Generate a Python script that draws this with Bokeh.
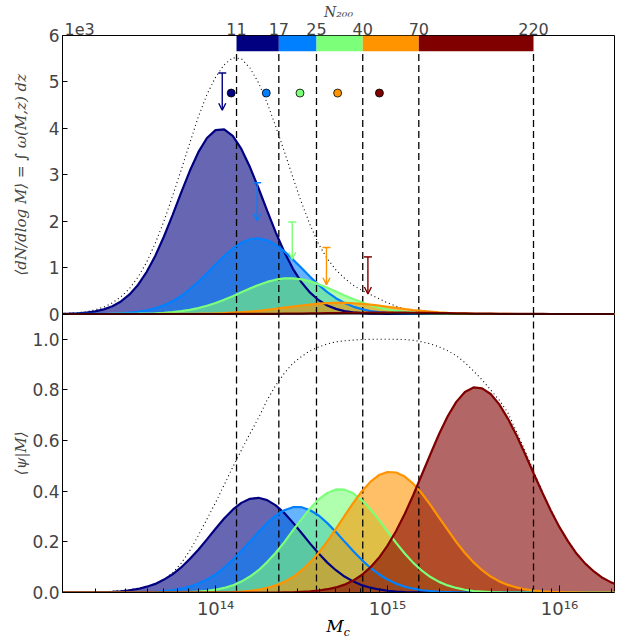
from bokeh.plotting import figure
from bokeh.models import (Range1d, FixedTicker, Arrow, OpenHead, LogAxis,
                          LinearAxis, CustomJSTickFormatter, Div, Span)
from bokeh.layouts import column
from bokeh.embed import file_html
from bokeh.resources import INLINE

# ---------------- data ----------------
LOGM = [13.10, 13.15, 13.20, 13.25, 13.30, 13.35, 13.40, 13.45, 13.50, 13.55,
        13.60, 13.65, 13.70, 13.75, 13.80, 13.85, 13.90, 13.95, 14.00, 14.05,
        14.10, 14.15, 14.20, 14.25, 14.30, 14.35, 14.40, 14.45, 14.50, 14.55,
        14.60, 14.65, 14.70, 14.75, 14.80, 14.85, 14.90, 14.95, 15.00, 15.05,
        15.10, 15.15, 15.20, 15.25, 15.30, 15.35, 15.40, 15.45, 15.50, 15.55,
        15.60, 15.65, 15.70, 15.75, 15.80, 15.85, 15.90, 15.95, 16.00, 16.05,
        16.10, 16.15, 16.20, 16.25, 16.30, 16.35]

Z10 = [0] * 10

# top panel: <dN/dlog M> in units of 1e3
NAVY_TOP = ([0.004, 0.008, 0.016, 0.031, 0.056, 0.099, 0.167, 0.271, 0.422, 0.632,
             0.909, 1.257, 1.670, 2.131, 2.614, 3.080, 3.486, 3.791, 3.961, 3.977,
             3.837, 3.556, 3.166, 2.709, 2.227, 1.759, 1.335, 0.973, 0.681, 0.459,
             0.297, 0.184, 0.110, 0.063, 0.035, 0.018, 0.009, 0.005, 0.002, 0.001]
            + Z10 + Z10 + [0, 0, 0, 0, 0, 0])
BLUE_TOP = ([0, 0, 0.001, 0.001, 0.002, 0.005, 0.009, 0.016, 0.028, 0.048,
             0.079, 0.124, 0.189, 0.276, 0.389, 0.529, 0.693, 0.875, 1.065, 1.248,
             1.410, 1.535, 1.611, 1.629, 1.587, 1.490, 1.349, 1.176, 0.989, 0.801,
             0.625, 0.470, 0.341, 0.238, 0.160, 0.104, 0.065, 0.039, 0.023, 0.013,
             0.007, 0.004, 0.002, 0.001, 0, 0, 0, 0, 0, 0]
            + Z10 + [0, 0, 0, 0, 0, 0])
GREEN_TOP = ([0, 0, 0, 0, 0, 0, 0.001, 0.002, 0.003, 0.006,
              0.010, 0.016, 0.026, 0.040, 0.061, 0.090, 0.128, 0.177, 0.237, 0.307,
              0.384, 0.467, 0.550, 0.626, 0.691, 0.739, 0.766, 0.768, 0.746, 0.702,
              0.640, 0.565, 0.484, 0.401, 0.322, 0.250, 0.188, 0.137, 0.097, 0.066,
              0.044, 0.028, 0.018, 0.011, 0.006, 0.003, 0.002, 0.001, 0, 0]
             + Z10 + [0, 0, 0, 0, 0, 0])
ORANGE_TOP = (Z10 +
              [0, 0, 0.001, 0.001, 0.002, 0.004, 0.006, 0.009, 0.013, 0.020,
               0.028, 0.039, 0.053, 0.070, 0.090, 0.112, 0.136, 0.160, 0.183, 0.204,
               0.222, 0.234, 0.239, 0.239, 0.232, 0.218, 0.200, 0.179, 0.155, 0.131,
               0.108, 0.086, 0.067, 0.050, 0.037, 0.026, 0.018, 0.012, 0.008, 0.005,
               0.003, 0.002, 0.001, 0, 0, 0, 0, 0, 0, 0,
               0, 0, 0, 0, 0, 0])
RED_TOP = (Z10 + Z10 +
           [0.001, 0.001, 0.002, 0.002, 0.003, 0.004, 0.006, 0.007, 0.010, 0.012,
            0.014, 0.017, 0.020, 0.023, 0.025, 0.027, 0.029, 0.030, 0.030, 0.030,
            0.029, 0.027, 0.025, 0.023, 0.020, 0.017, 0.014, 0.012, 0.010, 0.007,
            0.006, 0.004, 0.003, 0.002, 0.002, 0.001, 0.001, 0, 0, 0,
            0, 0, 0, 0, 0, 0])
TOTAL_TOP = ([0.01, 0.02, 0.03, 0.05, 0.09, 0.15, 0.24, 0.37, 0.55, 0.80,
              1.12, 1.53, 2.00, 2.54, 3.10, 3.68, 4.25, 4.73, 5.10, 5.37,
              5.52, 5.50, 5.30, 4.98, 4.55, 4.04, 3.50, 2.94, 2.40, 1.92,
              1.50, 1.19, 0.95, 0.77, 0.62, 0.51, 0.42, 0.33, 0.24, 0.17,
              0.11, 0.07, 0.04, 0.02, 0.01, 0.005, 0, 0, 0, 0]
             + Z10 + [0, 0, 0, 0, 0, 0])

# bottom panel: <psi|M>
NAVY_BOT = ([0, 0, 0, 0, 0.001, 0.002, 0.003, 0.005, 0.009, 0.014,
             0.023, 0.034, 0.051, 0.072, 0.099, 0.132, 0.169, 0.210, 0.252, 0.292,
             0.327, 0.354, 0.370, 0.374, 0.365, 0.344, 0.314, 0.276, 0.235, 0.193,
             0.154, 0.118, 0.088, 0.063, 0.044, 0.029, 0.019, 0.012, 0.007, 0.004,
             0.002, 0.001, 0.001, 0, 0, 0, 0, 0, 0, 0]
            + Z10 + [0, 0, 0, 0, 0, 0])
BLUE_BOT = ([0, 0, 0, 0, 0, 0, 0, 0, 0, 0.001,
             0.002, 0.003, 0.006, 0.009, 0.015, 0.023, 0.035, 0.051, 0.072, 0.098,
             0.129, 0.164, 0.201, 0.239, 0.274, 0.304, 0.325, 0.337, 0.337, 0.325,
             0.304, 0.274, 0.239, 0.201, 0.164, 0.129, 0.098, 0.072, 0.051, 0.035,
             0.023, 0.015, 0.009, 0.006, 0.003, 0.002, 0.001, 0, 0, 0]
            + Z10 + [0, 0, 0, 0, 0, 0])
GREEN_BOT = (Z10 +
             [0, 0, 0, 0, 0.001, 0.002, 0.004, 0.007, 0.011, 0.018,
              0.028, 0.043, 0.063, 0.088, 0.120, 0.157, 0.199, 0.245, 0.290, 0.332,
              0.368, 0.393, 0.407, 0.406, 0.392, 0.365, 0.329, 0.287, 0.241, 0.196,
              0.154, 0.117, 0.086, 0.061, 0.042, 0.028, 0.018, 0.011, 0.006, 0.004,
              0.002, 0.001, 0, 0, 0, 0, 0, 0, 0, 0,
              0, 0, 0, 0, 0, 0])
ORANGE_BOT = (Z10 +
              [0, 0, 0, 0, 0, 0, 0, 0, 0.001, 0.001,
               0.002, 0.004, 0.007, 0.011, 0.018, 0.028, 0.042, 0.061, 0.087, 0.119,
               0.157, 0.202, 0.251, 0.303, 0.353, 0.399, 0.437, 0.464, 0.476, 0.474,
               0.458, 0.429, 0.391, 0.345, 0.296, 0.247, 0.199, 0.156, 0.119, 0.088,
               0.063, 0.044, 0.030, 0.020, 0.012, 0.008, 0.005, 0.003, 0.002, 0.001,
               0.001, 0, 0, 0, 0, 0])
RED_BOT = (Z10 + Z10 +
           [0, 0, 0, 0, 0, 0, 0.001, 0.001, 0.003, 0.005,
            0.008, 0.013, 0.020, 0.031, 0.047, 0.069, 0.099, 0.137, 0.185, 0.243,
            0.310, 0.385, 0.466, 0.547, 0.626, 0.696, 0.753, 0.792, 0.810, 0.806,
            0.784, 0.743, 0.687, 0.621, 0.547, 0.470, 0.395, 0.323, 0.258, 0.202,
            0.153, 0.114, 0.083, 0.058, 0.040, 0.027])
TOTAL_BOT = [0, 0, 0.001, 0.001, 0.002, 0.003, 0.005, 0.008, 0.012, 0.017,
             0.024, 0.033, 0.050, 0.078, 0.115, 0.165, 0.225, 0.290, 0.355, 0.425,
             0.495, 0.562, 0.627, 0.690, 0.760, 0.818, 0.866, 0.905, 0.932, 0.955,
             0.970, 0.982, 0.990, 0.994, 0.997, 0.999, 1.0, 1.0, 1.0, 1.0,
             0.999, 0.996, 0.990, 0.982, 0.970, 0.955, 0.935, 0.908, 0.875, 0.840,
             0.800, 0.760, 0.710, 0.635, 0.560, 0.478, 0.400, 0.326, 0.260, 0.204,
             0.155, 0.115, 0.084, 0.059, 0.040, 0.027]

# richness bin edges (N200) and their mass positions (log10 M)
N200_LABELS = ["11", "17", "25", "40", "70", "220"]
BOUND_LOGM = [14.122, 14.368, 14.587, 14.856, 15.182, 15.849]

# upper limits (arrows) and points in the top panel (units of 1e3)
UL_LOGM = [14.039, 14.242, 14.446, 14.645, 14.886]
UL_TOP = [5.19, 2.83, 1.98, 1.43, 1.23]
UL_TIP = [4.39, 2.01, 1.18, 0.63, 0.43]
PT_LOGM = [14.091, 14.295, 14.491, 14.710, 14.953]
PT_Y = [4.76, 4.76, 4.76, 4.76, 4.76]

# axis ticks / labels
YTICKS_TOP = [0, 1, 2, 3, 4, 5, 6]
YTICKS_BOT = [0, 0.2, 0.4, 0.6, 0.8, 1.0]
YLABEL_TOP = "\u27e8dN/dlog M\u27e9 = \u222b \u03c9(M,z) dz"
YLABEL_BOT = "\u27e8\u03c8|M\u27e9"

COLORS = ["#000080", "#0080ff", "#7cff79", "#ff9400", "#800000"]

for s in (NAVY_TOP, BLUE_TOP, GREEN_TOP, ORANGE_TOP, RED_TOP, TOTAL_TOP,
          NAVY_BOT, BLUE_BOT, GREEN_BOT, ORANGE_BOT, RED_BOT, TOTAL_BOT):
    assert len(s) == len(LOGM), len(s)

# ---------------- plotting ----------------
M = [10 ** v for v in LOGM]
BM = [10 ** v for v in BOUND_LOGM]
ULM = [10 ** v for v in UL_LOGM]
PTM = [10 ** v for v in PT_LOGM]

XMIN, XMAX = 10 ** 13.11, 10 ** 16.32
OFFSET_TEXT_X = 10 ** 13.21          # where the "1e3" multiplier text sits
W, H = 615, 628
LEFT = 62
FONT = "DejaVu Sans"
SERIF = "DejaVu Serif"

# one frame holding both panels: the lower panel uses the default range
# (0 .. 1.1 in its lower half), the upper panel its own range "top"
# (0 .. 6 in the upper half)
SPLIT = 1.1
p = figure(width=W, height=H, x_axis_type="log", x_range=Range1d(XMIN, XMAX),
           y_range=Range1d(0, 2 * SPLIT), output_backend="svg",
           toolbar_location=None, min_border_left=LEFT, min_border_right=1,
           min_border_top=0, min_border_bottom=36)
p.extra_y_ranges = {"top": Range1d(-6, 6)}
p.outline_line_color = "black"
p.outline_line_width = 1
p.grid.visible = False
p.background_fill_color = "white"
p.border_fill_color = "white"

# left numeric axis, shared by both panels
step = SPLIT / 6.0
ytick_pos = list(YTICKS_BOT) + [SPLIT + t * step for t in YTICKS_TOP]
ya = p.yaxis[0]
ya.ticker = FixedTicker(ticks=ytick_pos)
ya.formatter = CustomJSTickFormatter(args=dict(split=SPLIT, stp=step), code="""
if (tick < split - 0.05) { return tick.toFixed(1); }
return String(Math.round((tick - split) / stp));
""")
ya.major_tick_in = 5
ya.major_tick_out = 0
ya.minor_tick_in = 0
ya.minor_tick_out = 0
ya.major_label_text_font = FONT
ya.major_label_text_font_size = "17px"
ya.major_label_standoff = 3
ya.axis_line_color = "black"

# outer left axis carrying the two y titles, one per panel
ytitle = LinearAxis(ticker=FixedTicker(ticks=[SPLIT / 2, SPLIT * 1.5]),
                    formatter=CustomJSTickFormatter(
                        args=dict(names=[YLABEL_BOT, YLABEL_TOP], split=SPLIT),
                        code="return tick < split ? names[0] : names[1];"))
ytitle.major_label_orientation = "parallel"
ytitle.major_tick_in = 0
ytitle.major_tick_out = 0
ytitle.minor_tick_in = 0
ytitle.minor_tick_out = 0
ytitle.axis_line_color = None
ytitle.major_label_standoff = 0
ytitle.major_label_text_font = SERIF
ytitle.major_label_text_font_style = "italic"
ytitle.major_label_text_font_size = "15px"
p.add_layout(ytitle, "left")

# bottom log axis
xa = p.xaxis[0]
xa.major_tick_in = 7
xa.major_tick_out = 0
xa.minor_tick_in = 4
xa.minor_tick_out = 0
xa.major_label_text_font = FONT
xa.major_label_text_font_size = "18px"
xa.major_label_standoff = 5
xa.axis_line_color = "black"
xa.formatter = CustomJSTickFormatter(code="""
const e = Math.round(Math.log10(tick));
const sup = {'0':'\u2070','1':'\u00b9','2':'\u00b2','3':'\u00b3','4':'\u2074',
             '5':'\u2075','6':'\u2076','7':'\u2077','8':'\u2078','9':'\u2079','-':'\u207b'};
return '10' + String(e).split('').map(c => sup[c]).join('');
""")

# top axis: N200 bin edges (plus the 1e3 multiplier of the upper y axis)
TOP_TICKS = [OFFSET_TEXT_X] + BM
TOP_LABELS = ["1e3"] + N200_LABELS
above = LogAxis(ticker=FixedTicker(ticks=TOP_TICKS),
                formatter=CustomJSTickFormatter(args=dict(edges=TOP_TICKS, names=TOP_LABELS), code="""
let best = 0;
let bd = Infinity;
for (let i = 0; i < edges.length; i++) {
  const d = Math.abs(Math.log(edges[i]) - Math.log(tick));
  if (d < bd) { bd = d; best = i; }
}
return names[best];
"""))
above.major_tick_in = 0
above.major_tick_out = 0
above.minor_tick_in = 0
above.minor_tick_out = 0
above.axis_line_color = None
above.major_label_standoff = 1
above.major_label_text_font = FONT
above.major_label_text_font_size = "16px"
above.axis_label = "N\u2082\u2080\u2080"
above.axis_label_text_font = SERIF
above.axis_label_text_font_style = "italic"
above.axis_label_text_font_size = "14px"
above.axis_label_standoff = 0
p.add_layout(above, "above")

top_series = [NAVY_TOP, BLUE_TOP, GREEN_TOP, ORANGE_TOP, RED_TOP]
bot_series = [NAVY_BOT, BLUE_BOT, GREEN_BOT, ORANGE_BOT, RED_BOT]
zeros = [0] * len(M)

for rng, series, total, ytop in [("top", top_series, TOTAL_TOP, 5.66),
                                  ("default", bot_series, TOTAL_BOT, SPLIT)]:
    for vals, c in zip(series, COLORS):
        p.varea(x=M, y1=zeros, y2=vals, fill_color=c, fill_alpha=0.6,
                y_range_name=rng)
    p.line(x=M, y=total, line_color="black", line_width=1.1, line_dash="1 3",
           y_range_name=rng)
    p.segment(x0=BM, y0=[0] * len(BM), x1=BM, y1=[ytop] * len(BM),
              line_color="black", line_width=1.3, line_dash="7 4",
              y_range_name=rng)
    for vals, c in zip(series, COLORS):
        p.line(x=M, y=vals, line_color=c, line_width=2.2, y_range_name=rng)

# colour bar of richness bins on top of the upper panel
p.quad(left=BM[:-1], right=BM[1:], bottom=5.66, top=6.0,
       fill_color=COLORS, line_color=None, y_range_name="top")

# upper-limit arrows and points
for x, y0, y1, c in zip(ULM, UL_TOP, UL_TIP, COLORS):
    p.add_layout(Arrow(end=OpenHead(size=7, line_color=c, line_width=1.4),
                       x_start=x, y_start=y0, x_end=x, y_end=y1,
                       line_color=c, line_width=1.4, y_range_name="top"))
p.scatter(x=ULM, y=UL_TOP, marker="dash", size=8, line_color=COLORS,
          line_width=1.5, y_range_name="top")
p.scatter(x=PTM, y=PT_Y, size=8, fill_color=COLORS, line_color="black",
          line_width=0.8, y_range_name="top")

# boundary between the two panels
p.add_layout(Span(location=SPLIT, dimension="width", line_color="black",
                  line_width=1.2, level="overlay"))

FRAME_W = W - LEFT - 1
xlabel = Div(text="<div style=\"width:%dpx;margin-left:%dpx;padding-top:2px;"
                  "text-align:center;font-family:'DejaVu Serif';font-size:17px;"
                  "line-height:17px;\"><i>M</i><sub style=\"font-size:11px;"
                  "line-height:0;\"><i>c</i></sub></div>" % (FRAME_W, LEFT),
             width=W, height=22, margin=(-12, 0, 0, 0))

layout = column(p, xlabel, spacing=0)
open("out.html", "w").write(file_html(layout, INLINE))
